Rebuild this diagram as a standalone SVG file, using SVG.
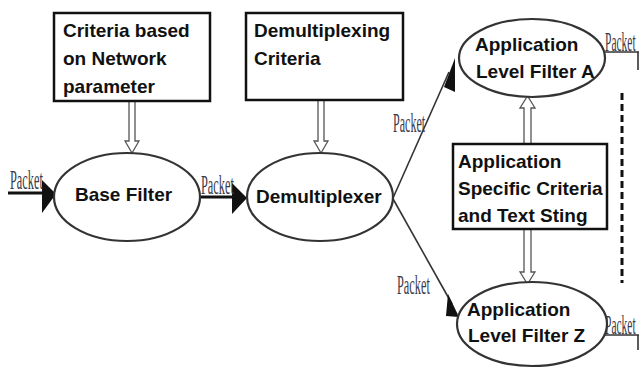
<svg xmlns="http://www.w3.org/2000/svg" width="639" height="368" viewBox="0 0 639 368">
<style>
.box{fill:#fff;stroke:#111;stroke-width:2.5}
.ell{fill:#fff;stroke:#333;stroke-width:2.2}
.t{font-family:"Liberation Sans",Arial,sans-serif;font-weight:bold;font-size:19px;fill:#111}
.pk{font-family:"Liberation Serif","Times New Roman",serif;font-size:28px;fill:#3a3a4a}
.hol{fill:#fff;stroke:#555;stroke-width:1.3}
.ln{stroke:#333;stroke-width:1.6;fill:none}
.thk{stroke:#111;stroke-width:3;fill:none}
</style>
<rect width="639" height="368" fill="#fff"/>
<g id="connectors">
  <path class="hol" d="M129,101 V141 H125 L132,153 L139,141 H135 V101 Z"/>
  <path class="hol" d="M318,100 V141 H314 L321,153 L328,141 H324 V100 Z"/>
  <path class="hol" d="M524,144 V108 H520 L527.5,96 L535,108 H531 V144 Z"/>
  <path class="hol" d="M524,229 V272 H520 L527.5,284 L535,272 H531 V229 Z"/>
  <line class="thk" x1="8" y1="193" x2="44" y2="193"/>
  <polygon points="42,180 56,194 42,213" fill="#111"/>
  <line class="thk" x1="200" y1="197" x2="234" y2="197"/>
  <polygon points="232,183 247,198 232,214" fill="#111"/>
  <line class="ln" x1="393" y1="198" x2="449" y2="72"/>
  <polygon points="455,58 455,92 444,87" fill="#111"/>
  <line class="ln" x1="392" y1="197" x2="452" y2="304"/>
  <polygon points="459,317 448,294 446,316" fill="#111"/>
  <line class="ln" x1="605" y1="52" x2="639" y2="52"/>
  <line class="ln" x1="638" y1="52" x2="638" y2="70"/>
  <line class="ln" x1="605" y1="335" x2="639" y2="335"/>
  <line class="ln" x1="638" y1="335" x2="638" y2="350"/>
  <line x1="622" y1="93" x2="622" y2="283" stroke="#111" stroke-width="3" stroke-dasharray="7,4"/>
  <text class="pk" transform="translate(10,189) scale(0.44,1)">Packet</text>
  <text class="pk" transform="translate(201,194) scale(0.44,1)">Packet</text>
  <text class="pk" transform="translate(393,132) scale(0.43,1)">Packet</text>
  <text class="pk" transform="translate(397,294) scale(0.44,1)">Packet</text>
  <text class="pk" transform="translate(605,51) scale(0.41,1)">Packet</text>
  <text class="pk" transform="translate(605,334) scale(0.41,1)">Packet</text>
</g>
<g id="box-network">
  <rect class="box" x="54" y="13" width="156" height="88"/>
  <text class="t" x="63" y="37">Criteria based</text>
  <text class="t" x="63" y="65">on Network</text>
  <text class="t" x="63" y="93">parameter</text>
</g>
<g id="box-demux">
  <rect class="box" x="246" y="13" width="157" height="87"/>
  <text class="t" x="254" y="37">Demultiplexing</text>
  <text class="t" x="254" y="65">Criteria</text>
</g>
<g id="box-app">
  <rect class="box" x="453" y="144" width="154" height="85"/>
  <text class="t" x="458" y="168">Application</text>
  <text class="t" x="458" y="195">Specific Criteria</text>
  <text class="t" x="458" y="222">and Text Sting</text>
</g>
<g id="base-filter">
  <ellipse class="ell" cx="127" cy="197" rx="73" ry="44"/>
  <text class="t" x="75" y="201">Base Filter</text>
</g>
<g id="demultiplexer">
  <ellipse class="ell" cx="320" cy="197" rx="73" ry="44"/>
  <text class="t" x="256" y="203">Demultiplexer</text>
</g>
<g id="filter-a">
  <ellipse class="ell" cx="532" cy="58" rx="73" ry="39"/>
  <text class="t" x="475" y="51">Application</text>
  <text class="t" x="476" y="78">Level Filter A</text>
</g>
<g id="filter-z">
  <ellipse class="ell" cx="532" cy="324" rx="75" ry="42"/>
  <text class="t" x="467" y="316">Application</text>
  <text class="t" x="468" y="342">Level Filter Z</text>
</g>
</svg>
